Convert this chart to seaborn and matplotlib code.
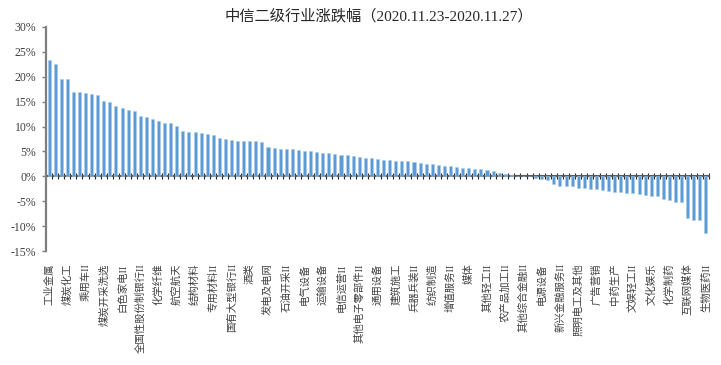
import numpy as np
import pandas as pd
import matplotlib
matplotlib.use("Agg")
import matplotlib.pyplot as plt
import seaborn as sns

# -----------------------------
# Data (weekly change, %, 109 CITIC level-2 industries, sorted)
# -----------------------------
title = "中信二级行业涨跌幅（2020.11.23-2020.11.27）"

changes = [
    23.3, 22.5, 19.5, 19.5, 16.9, 16.9, 16.7, 16.6, 16.4, 15.1,
    15.0, 14.1, 13.7, 13.3, 13.2, 12.1, 12.0, 11.5, 11.2, 10.8,
    10.7, 10.2, 9.2, 9.0, 9.0, 8.7, 8.5, 8.4, 7.7, 7.5,
    7.2, 7.1, 7.1, 7.1, 7.0, 6.8, 5.8, 5.7, 5.5, 5.5,
    5.4, 5.3, 5.1, 5.1, 4.9, 4.7, 4.6, 4.5, 4.3, 4.3,
    4.1, 3.9, 3.7, 3.6, 3.5, 3.3, 3.2, 3.1, 3.1, 3.0,
    2.8, 2.6, 2.4, 2.4, 2.2, 2.1, 2.1, 1.8, 1.7, 1.7,
    1.5, 1.5, 1.2, 1.0, 0.6, 0.5, 0.3, 0.08, 0.03, -0.03,
    -0.3, -0.5, -0.8, -1.6, -1.9, -1.9, -2.0, -2.3, -2.4, -2.5,
    -2.5, -2.7, -2.9, -3.1, -3.1, -3.3, -3.4, -3.5, -3.7, -3.9,
    -3.9, -4.5, -4.8, -5.1, -5.2, -8.3, -8.7, -8.7, -11.3,
]

# only every third industry is labelled on the axis
tick_labels = [
    "工业金属", "煤炭化工", "乘用车II", "煤炭开采洗选", "白色家电II",
    "全国性股份制银行II", "化学纤维", "航空航天", "结构材料", "专用材料II",
    "国有大型银行II", "酒类", "发电及电网", "石油开采II", "电气设备",
    "运输设备", "电信运营II", "其他电子零部件II", "通用设备", "建筑施工",
    "兵器兵装II", "纺织制造", "增值服务II", "媒体", "其他轻工II",
    "农产品加工II", "其他综合金融II", "电源设备", "新兴金融服务II", "照明电工及其他",
    "广告营销", "中药生产", "文娱轻工II", "文化娱乐", "化学制药",
    "互联网媒体", "生物医药II",
]
label_step = 3

y_ticks = [-15, -10, -5, 0, 5, 10, 15, 20, 25, 30]

df = pd.DataFrame({"idx": np.arange(len(changes)), "change": changes})

# -----------------------------
# Plot
# -----------------------------
sns.set_style("white")
plt.rcParams["font.family"] = ["Liberation Serif", "Noto Sans CJK SC"]

fig = plt.figure(figsize=(7.21, 3.65), dpi=100)
ax = fig.add_axes([46 / 721, 1 - 251 / 365, (709 - 46) / 721, (251 - 27) / 365])

sns.barplot(data=df, x="idx", y="change", color="#5b9bd5", width=0.5,
            saturation=1, edgecolor="#a9cbea", linewidth=0.4, ax=ax)

n = len(changes)
ymin, ymax = y_ticks[0], y_ticks[-1]
ax.set_xlim(-0.5, n - 0.5)
ax.set_ylim(ymin, ymax)

# y axis
ax.set_yticks(y_ticks)
ax.set_yticklabels([f"{v}%" for v in y_ticks], fontsize=8.5, color="#404040",
                   family=["Liberation Serif"])
ax.tick_params(axis="y", left=True, length=3, width=1, color="#7f7f7f", pad=4)
for side in ["top", "right", "bottom"]:
    ax.spines[side].set_visible(False)
ax.spines["left"].set_color("#7f7f7f")
ax.spines["left"].set_linewidth(1.6)

# category labels hang under the plot area
tick_pos = np.arange(0, n, label_step)
ax.set_xticks(tick_pos)
ax.set_xticklabels(tick_labels, rotation=90, fontsize=7.5, color="#404040",
                   family=["Liberation Serif", "Noto Sans CJK SC"], va="top")
ax.tick_params(axis="x", bottom=True, length=0, pad=9)
ax.set_xlabel("")
ax.set_ylabel("")

# zero line with category boundary ticks
zero_frac = -ymin / (ymax - ymin)
sec = ax.secondary_xaxis(zero_frac)
sec.set_xticks(np.arange(n + 1) - 0.5)
sec.tick_params(axis="x", direction="inout", length=4, width=0.8,
                color="#262626", labelbottom=False)
sec.spines["bottom"].set_color("#595959")
sec.spines["bottom"].set_linewidth(1.5)

fig.text(0.525, 0.955, title, ha="center", va="center", fontsize=11, color="#262626")

plt.savefig("out.png", dpi=100)
plt.close()
